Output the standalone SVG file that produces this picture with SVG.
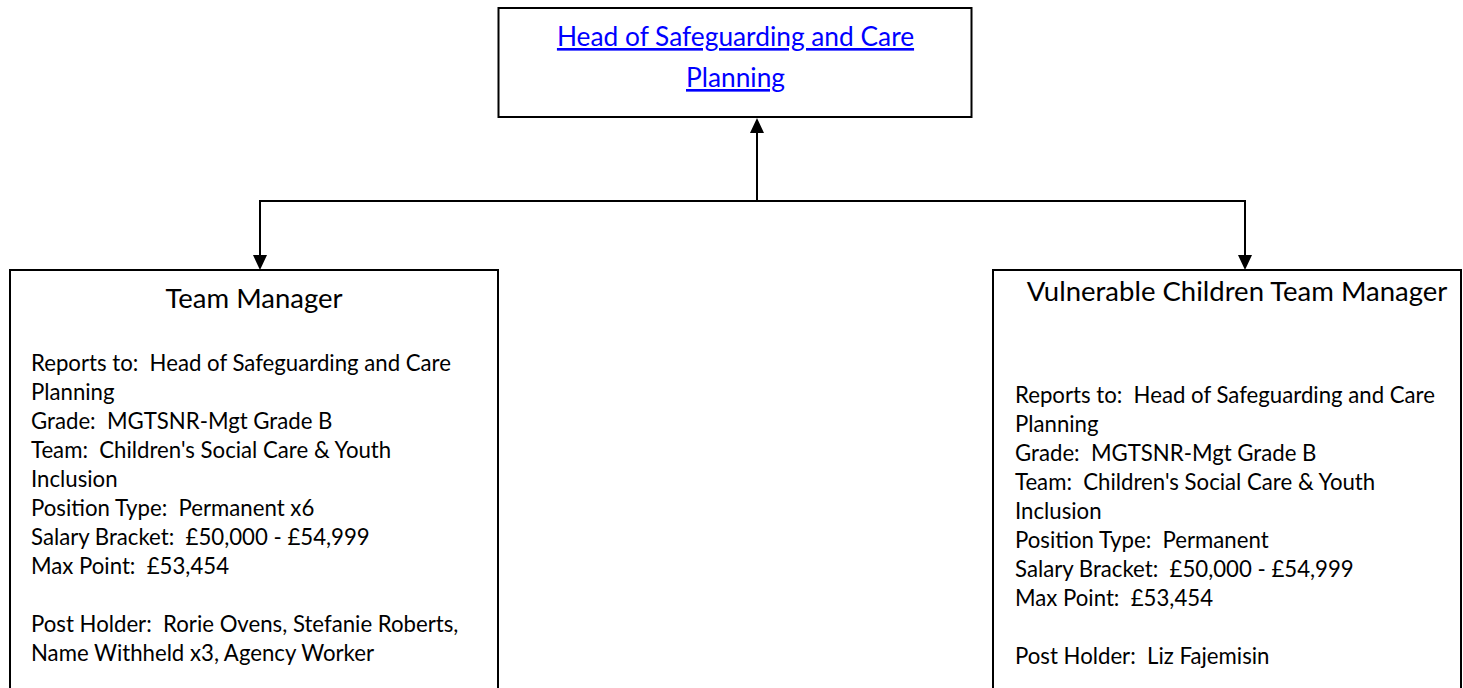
<svg xmlns="http://www.w3.org/2000/svg" width="1463" height="688" viewBox="0 0 1463 688">
<style>
.box{fill:#fff;stroke:#000;stroke-width:2}
.con{fill:none;stroke:#000;stroke-width:2}
.head{fill:#000}
.t{font-family:Lato,"Liberation Sans",sans-serif;fill:#000;white-space:pre}
.title{font-size:27.5px;text-anchor:middle}
.body{font-size:22.2px}
.link{font-family:Lato,"Liberation Sans",sans-serif;font-size:26.3px;fill:#0000ff;text-anchor:middle;text-decoration:underline}
</style>
<rect width="1463" height="688" fill="#fff"/>
<g id="connectors">
<path class="con" d="M757 201V132"/>
<polygon class="head" points="757,118 750,133 764,133"/>
<path class="con" d="M260 201H1245"/>
<path class="con" d="M260 200V256"/>
<polygon class="head" points="260,270 253,255 267,255"/>
<path class="con" d="M1245 200V256"/>
<polygon class="head" points="1245,270 1238,255 1252,255"/>
</g>
<g id="head">
<rect class="box" x="498.5" y="8" width="473" height="109"/>
<text class="link" x="735.5" y="46">Head of Safeguarding and Care</text>
<text class="link" x="735.5" y="87">Planning</text>
</g>
<g id="team-manager">
<rect class="box" x="10" y="270" width="488" height="440"/>
<text class="t title" x="254" y="308">Team Manager</text>
<text class="t body" x="31" xml:space="preserve"><tspan x="31" y="371">Reports to:  Head of Safeguarding and Care</tspan><tspan x="31" y="400">Planning</tspan><tspan x="31" y="429">Grade:  MGTSNR-Mgt Grade B</tspan><tspan x="31" y="458">Team:  Children's Social Care &amp; Youth</tspan><tspan x="31" y="487">Inclusion</tspan><tspan x="31" y="516">Position Type:  Permanent x6</tspan><tspan x="31" y="545">Salary Bracket:  £50,000 - £54,999</tspan><tspan x="31" y="574">Max Point:  £53,454</tspan><tspan x="31" y="632">Post Holder:  Rorie Ovens, Stefanie Roberts,</tspan><tspan x="31" y="661">Name Withheld x3, Agency Worker</tspan></text>
</g>
<g id="vulnerable-children-team-manager">
<rect class="box" x="993" y="270" width="468" height="440"/>
<text class="t title" x="1237" y="301">Vulnerable Children Team Manager</text>
<text class="t body" x="1015" xml:space="preserve"><tspan x="1015" y="403">Reports to:  Head of Safeguarding and Care</tspan><tspan x="1015" y="432">Planning</tspan><tspan x="1015" y="461">Grade:  MGTSNR-Mgt Grade B</tspan><tspan x="1015" y="490">Team:  Children's Social Care &amp; Youth</tspan><tspan x="1015" y="519">Inclusion</tspan><tspan x="1015" y="548">Position Type:  Permanent</tspan><tspan x="1015" y="577">Salary Bracket:  £50,000 - £54,999</tspan><tspan x="1015" y="606">Max Point:  £53,454</tspan><tspan x="1015" y="664">Post Holder:  Liz Fajemisin</tspan></text>
</g>
</svg>
